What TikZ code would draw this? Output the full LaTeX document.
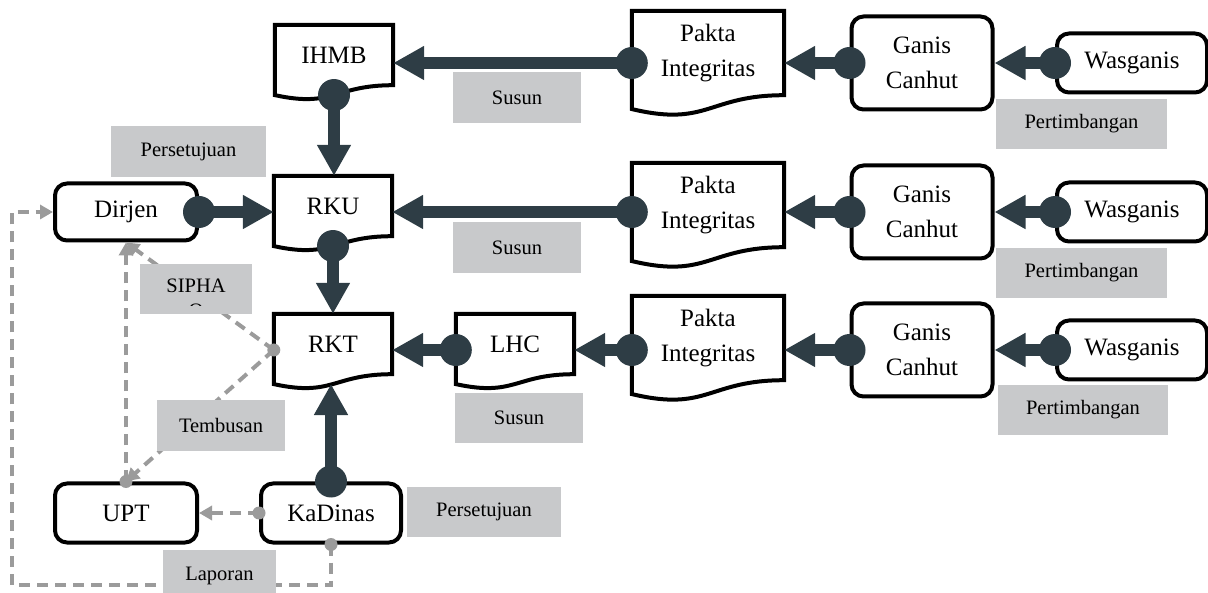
\documentclass[tikz,border=0pt]{standalone}
\usepackage{fontspec}
\setmainfont{Liberation Serif}
\usetikzlibrary{arrows.meta,calc}
\definecolor{dk}{RGB}{46,61,69}
\definecolor{lblgray}{RGB}{200,201,203}
\definecolor{dashgray}{RGB}{155,155,155}
\newcommand\docoutline[2]{%
  \draw[docline] (#1.north west) -- (#1.north east) -- (#1.south east)
    .. controls (#1.south) and ($(#1.south)+(0,0.305*#2)$) .. ($(#1.south west)+(0,0.132*#2)$) -- cycle;
  \coordinate (#1-b) at ($(#1.south)+(0,0.131*#2)$);}
\begin{document}
\begin{tikzpicture}[x=1pt,y=-1pt,
  box/.style={draw=black, line width=4pt, rounded corners=12pt, fill=white, align=center,
    font=\fontsize{25}{35}\selectfont, inner sep=0pt},
  docn/.style={draw=none, inner sep=0pt, align=center, font=\fontsize{25}{35}\selectfont},
  docline/.style={draw=black, line width=4pt, line join=miter},
  lbl/.style={fill=lblgray, inner sep=0pt, font=\fontsize{20.5}{23}\selectfont},
  lbltxt/.style={inner sep=0pt, font=\fontsize{20.5}{23}\selectfont},
  bigarrow/.style={draw=dk, line width=12pt, -{Triangle[length=31pt,width=32pt]}},
  gdash/.style={draw=dashgray, line width=4pt, dash pattern=on 11pt off 7pt,
    -{Triangle[length=13pt,width=14pt]}},
  bigdot/.style={fill=dk},
  gdot/.style={fill=dashgray},
]
\clip (0,0) rectangle (1208,593);
% row coordinates
\coordinate (r1) at (0,63);
\coordinate (r2) at (0,212);
\coordinate (r3) at (0,350);
\coordinate (lp) at (12,585);

% document nodes
\node[docn, minimum width=118pt, minimum height=60pt] (ihmb) at (334,55) {IHMB};
\node[docn, minimum width=118pt, minimum height=60pt] (rku) at (333,206) {RKU};
\node[docn, minimum width=118pt, minimum height=60pt] (rkt) at (333,344) {RKT};
\node[docn, minimum width=118pt, minimum height=60pt] (lhc) at (515,344) {LHC};
\node[docn, minimum width=152pt, minimum height=84pt] (pakta1) at (708,53) {Pakta\\Integritas};
\node[docn, minimum width=152pt, minimum height=84pt] (pakta2) at (708,205) {Pakta\\Integritas};
\node[docn, minimum width=152pt, minimum height=84pt] (pakta3) at (708,338) {Pakta\\Integritas};

% rounded boxes
\node[box, minimum width=141pt, minimum height=93pt] (ganis1) at (922,63) {Ganis\\Canhut};
\node[box, minimum width=141pt, minimum height=93pt] (ganis2) at (922,212) {Ganis\\Canhut};
\node[box, minimum width=141pt, minimum height=93pt] (ganis3) at (922,350) {Ganis\\Canhut};
\node[box, minimum width=150pt, minimum height=59pt] (was1) at (1132,63) {Wasganis};
\node[box, minimum width=150pt, minimum height=59pt] (was2) at (1132,212) {Wasganis};
\node[box, minimum width=150pt, minimum height=59pt] (was3) at (1132,350) {Wasganis};
\node[box, minimum width=142pt, minimum height=57pt] (dirjen) at (126,212) {Dirjen};
\node[box, minimum width=142pt, minimum height=59pt] (upt) at (126,513) {UPT};
\node[box, minimum width=140pt, minimum height=59pt] (kadinas) at (331,513) {KaDinas};

% document outlines
\docoutline{ihmb}{75}
\docoutline{rku}{75}
\docoutline{rkt}{75}
\docoutline{lhc}{75}
\docoutline{pakta1}{105}
\docoutline{pakta2}{105}
\docoutline{pakta3}{105}

% gray dashed connectors
\draw[gdash] (rkt.west |- r3) -- (dirjen.south);
\draw[gdash] (rkt.west |- r3) -- (upt.north);
\draw[gdash] (upt.north) -- (dirjen.south);
\draw[gdash] (kadinas.west) -- (upt.east);
\draw[gdash] (kadinas.south) |- (lp) |- (dirjen.west);

% gray labels
\node[lbl, minimum width=128pt, minimum height=51pt] (susun1) at (517,97.5) {Susun};
\node[lbl, minimum width=128pt, minimum height=51pt] (susun2) at (517,247.5) {Susun};
\node[lbl, minimum width=128pt, minimum height=50pt] (susun3) at (519,418) {Susun};
\node[lbl, minimum width=171pt, minimum height=50pt] (pert1) at (1081.5,124) {Pertimbangan};
\node[lbl, minimum width=171pt, minimum height=50pt] (pert2) at (1081.5,273) {Pertimbangan};
\node[lbl, minimum width=170pt, minimum height=50pt] (pert3) at (1083,410) {Pertimbangan};
\node[lbl, minimum width=155pt, minimum height=51pt] (setuju1) at (188.5,151.5) {Persetujuan};
\node[lbl, minimum width=154pt, minimum height=50pt] (setuju2) at (484,512) {Persetujuan};
\node[lbl, minimum width=128pt, minimum height=51pt] (tembusan) at (221,425.5) {Tembusan};
\node[lbl, minimum width=113pt, minimum height=51pt] (laporan) at (219.5,575.5) {Laporan};
\node[lbl, minimum width=112pt, minimum height=50pt] (sipha) at (196,289) {};
\begin{scope}
  \clip (sipha.north west) rectangle ($(sipha.south east)+(0,-9)$);
  \node[lbltxt, anchor=base] (sipha-t1) at (196,292.6) {SIPHA};
  \node[lbltxt, anchor=base] (sipha-t2) at (196,317.5) {O};
\end{scope}

% thick arrows
\draw[bigarrow] (pakta1.west |- r1) -- (ihmb.east |- r1);
\draw[bigarrow] (ganis1.west) -- (pakta1.east |- r1);
\draw[bigarrow] (was1.west) -- (ganis1.east);
\draw[bigarrow] (pakta2.west |- r2) -- (rku.east |- r2);
\draw[bigarrow] (ganis2.west) -- (pakta2.east |- r2);
\draw[bigarrow] (was2.west) -- (ganis2.east);
\draw[bigarrow] (lhc.west |- r3) -- (rkt.east |- r3);
\draw[bigarrow] (pakta3.west |- r3) -- (lhc.east |- r3);
\draw[bigarrow] (ganis3.west) -- (pakta3.east |- r3);
\draw[bigarrow] (was3.west) -- (ganis3.east);
\draw[bigarrow] (ihmb-b) -- (ihmb-b |- rku.north);
\draw[bigarrow] (rku-b) -- (rku-b |- rkt.north);
\draw[bigarrow] (dirjen.east) -- (dirjen.east -| rku.west);
\draw[bigarrow] (kadinas.north) -- (kadinas.north |- rkt-b);

% dark dots
\fill[bigdot] (pakta1.west |- r1) circle (16pt);
\fill[bigdot] (ganis1.west) circle (16pt);
\fill[bigdot] (was1.west) circle (16pt);
\fill[bigdot] (pakta2.west |- r2) circle (16pt);
\fill[bigdot] (ganis2.west) circle (16pt);
\fill[bigdot] (was2.west) circle (16pt);
\fill[bigdot] (lhc.west |- r3) circle (16pt);
\fill[bigdot] (pakta3.west |- r3) circle (16pt);
\fill[bigdot] (ganis3.west) circle (16pt);
\fill[bigdot] (was3.west) circle (16pt);
\fill[bigdot] (ihmb-b) circle (16pt);
\fill[bigdot] (rku-b) circle (16pt);
\fill[bigdot] (dirjen.east) circle (16pt);
\fill[bigdot] (kadinas.north) circle (16pt);

% gray dots
\fill[gdot] (rkt.west |- r3) circle (6.5pt);
\fill[gdot] (upt.north) circle (6.5pt);
\fill[gdot] (kadinas.west) circle (6.5pt);
\fill[gdot] (kadinas.south) circle (6.5pt);
\end{tikzpicture}
\end{document}
